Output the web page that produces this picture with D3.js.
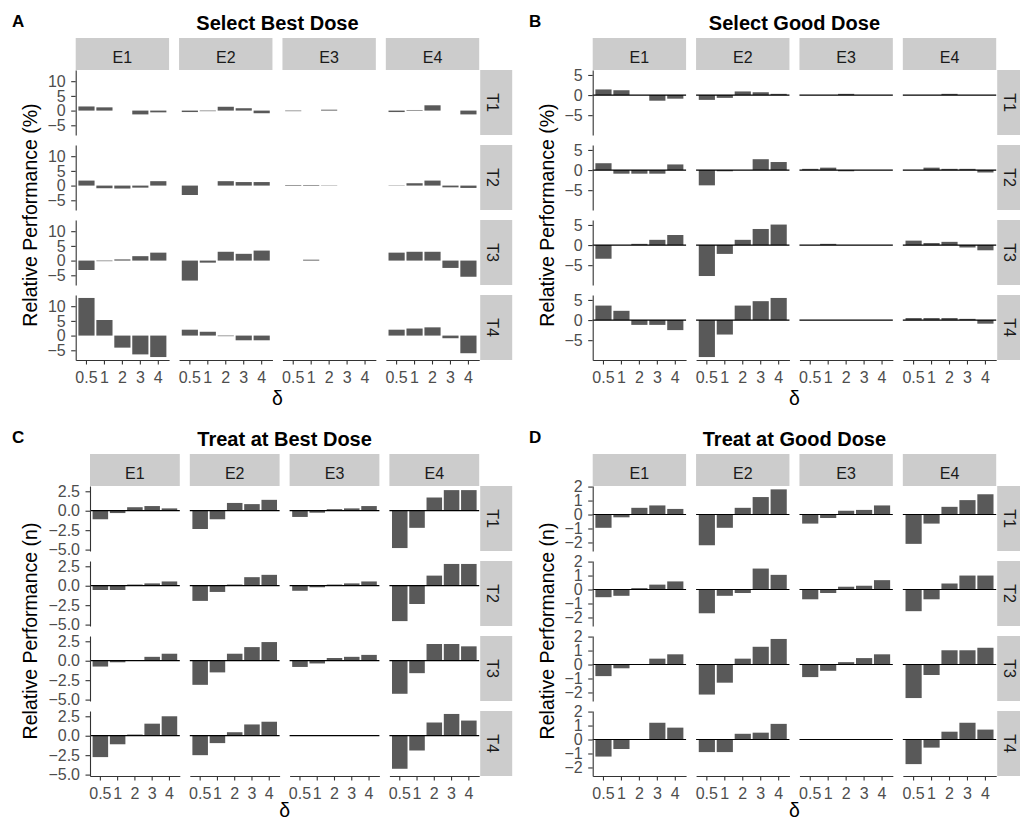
<!DOCTYPE html>
<html><head><meta charset="utf-8">
<script src="https://cdn.jsdelivr.net/npm/d3@7"></script>
<style>
body{margin:0;background:#fff;}
svg text{font-family:"Liberation Sans",Arial,Helvetica,sans-serif;}
</style></head><body>
<svg id="chart" width="1020" height="821"></svg>
<script>
// ---------- categories ----------
const deltas = ["0.5", "1", "2", "3", "4"];
const exposures = ["E1", "E2", "E3", "E4"];
const toxicities = ["T1", "T2", "T3", "T4"];

// ---------- A: Select Best Dose (%) — per T row, one list per E1..E4 across deltas ----------
const selectBestT1 = [[1.4, 1.1, 0, -1.3, -0.6], [-0.5, -0.2, 1.3, 0.8, -0.9], [-0.2, 0, 0.3, 0, 0], [-0.5, 0.2, 1.8, 0, -1.3]];
const selectBestT2 = [[1.7, -0.9, -1.0, -0.7, 1.5], [-3.2, 0, 1.5, 1.2, 1.2], [0.2, 0.2, -0.1, 0, 0], [-0.1, 0.8, 1.7, -0.6, -0.8]];
const selectBestT3 = [[-3.2, -0.2, 0.4, 1.5, 2.7], [-6.8, -0.7, 3.0, 2.3, 3.4], [0, 0.3, 0, 0, 0], [2.7, 3.0, 3.0, -2.5, -5.5]];
const selectBestT4 = [[12.8, 5.3, -4.1, -6.4, -7.3], [2.0, 1.3, -0.2, -1.6, -1.6], [0, 0, 0, 0, 0], [2.0, 2.4, 2.8, -0.9, -6.0]];

// ---------- B: Select Good Dose (%) ----------
const selectGoodT1 = [[1.4, 1.2, 0, -1.4, -0.9], [-1.2, -0.7, 0.9, 0.7, 0.3], [0, 0, 0.3, 0, 0], [0, 0, 0.3, 0, 0]];
const selectGoodT2 = [[1.7, -0.9, -0.9, -0.9, 1.4], [-3.8, -0.3, 0, 2.7, 2.0], [0.3, 0.6, -0.3, 0, 0], [0, 0.6, 0.3, 0.3, -0.6]];
const selectGoodT3 = [[-3.4, 0, 0.3, 1.3, 2.5], [-7.7, -2.2, 1.3, 4.0, 5.1], [0, 0.3, 0, 0, 0], [1.1, 0.5, 0.8, -0.6, -1.3]];
const selectGoodT4 = [[3.6, 2.3, -1.2, -1.2, -2.5], [-9.2, -3.6, 3.6, 4.7, 5.5], [0, 0, 0, 0, 0], [0.5, 0.5, 0.5, 0.3, -0.9]];

// ---------- C: Treat at Best Dose (n) ----------
const treatBestT1 = [[-1.1, -0.3, 0.45, 0.6, 0.3], [-2.35, -1.1, 1.0, 0.85, 1.4], [-0.8, -0.25, 0.2, 0.3, 0.6], [-4.8, -2.2, 1.7, 2.65, 2.65]];
const treatBestT2 = [[-0.55, -0.55, 0.15, 0.3, 0.55], [-1.95, -0.8, 0.15, 1.1, 1.4], [-0.65, -0.2, 0.15, 0.3, 0.55], [-4.55, -2.35, 1.3, 2.8, 2.8]];
const treatBestT3 = [[-0.75, -0.2, 0.05, 0.5, 0.9], [-3.1, -1.5, 0.9, 1.75, 2.4], [-0.8, -0.35, 0.35, 0.5, 0.75], [-4.25, -1.6, 2.15, 2.15, 1.85]];
const treatBestT4 = [[-2.75, -1.1, 0.15, 1.55, 2.5], [-2.5, -0.95, 0.45, 1.45, 1.8], [0, 0, 0, 0, 0], [-4.25, -1.9, 1.7, 2.8, 1.95]];

// ---------- D: Treat at Good Dose (n) ----------
const treatGoodT1 = [[-0.95, -0.2, 0.48, 0.65, 0.4], [-2.2, -0.95, 0.48, 1.25, 1.8], [-0.65, -0.25, 0.27, 0.33, 0.65], [-2.1, -0.65, 0.55, 1.03, 1.45]];
const treatGoodT2 = [[-0.55, -0.45, 0.1, 0.35, 0.58], [-1.7, -0.45, -0.25, 1.5, 1.05], [-0.7, -0.25, 0.2, 0.27, 0.67], [-1.55, -0.7, 0.43, 1.0, 1.0]];
const treatGoodT3 = [[-0.83, -0.27, 0, 0.42, 0.73], [-2.15, -1.3, 0.42, 1.27, 1.83], [-0.9, -0.45, 0.17, 0.46, 0.73], [-2.4, -0.75, 1.02, 1.02, 1.2]];
const treatGoodT4 = [[-1.22, -0.68, 0, 1.2, 0.85], [-0.9, -0.9, 0.41, 0.49, 1.12], [0, 0, 0, 0, 0], [-1.76, -0.58, 0.56, 1.2, 0.71]];

// ---------- tick values ----------
const ticksA = [-5, 0, 5, 10];
const ticksB = [-5, 0, 5];
const ticksC = [-5.0, -2.5, 0.0, 2.5];
const ticksD = [-2, -1, 0, 1, 2];

// ---------- panel definitions ----------
const panels = [
  {tag: "A", title: "Select Best Dose", ylab: "Relative Performance (%)", rows: [selectBestT1, selectBestT2, selectBestT3, selectBestT4], ticks: ticksA, fmt: d3.format("d"), hline: false, ox: 0, oy: 0, left: 75.7},
  {tag: "B", title: "Select Good Dose", ylab: "Relative Performance (%)", rows: [selectGoodT1, selectGoodT2, selectGoodT3, selectGoodT4], ticks: ticksB, fmt: d3.format("d"), hline: true, ox: 517, oy: 0, left: 75.7},
  {tag: "C", title: "Treat at Best Dose", ylab: "Relative Performance (n)", rows: [treatBestT1, treatBestT2, treatBestT3, treatBestT4], ticks: ticksC, fmt: d3.format(".1f"), hline: true, ox: 0, oy: 416, left: 90},
  {tag: "D", title: "Treat at Good Dose", ylab: "Relative Performance (n)", rows: [treatGoodT1, treatGoodT2, treatGoodT3, treatGoodT4], ticks: ticksD, fmt: d3.format("d"), hline: true, ox: 517, oy: 416, left: 75.7}
];

const svg = d3.select("#chart");
const RIGHT = 479.2, GAP = 10, STRIP_TOP = 38, PANEL_TOP = 70, PANEL_BOTTOM = 360, STRIP = 32;
const BAR = "#595959", STRIPFILL = "#CCCCCC", AXIS = "#333333", TICKTXT = "#4D4D4D";

panels.forEach(p => {
  const g = svg.append("g").attr("transform", `translate(${p.ox},${p.oy})`);
  const colW = (RIGHT - p.left - GAP * 3) / 4;
  const rowH = (PANEL_BOTTOM - PANEL_TOP - GAP * 3) / 4;

  // y domain shared across facets (ggplot-like 5% expansion, includes 0)
  const all = p.rows.flat(2).concat([0]);
  const [mn, mx] = d3.extent(all);
  const pad = (mx - mn) * 0.05;
  const yDomain = [mn - pad, mx + pad];

  // tag & title
  g.append("text").attr("x", 12).attr("y", 27).attr("font-size", 17).attr("font-weight", "bold").attr("fill", "#000").text(p.tag);
  g.append("text").attr("x", (p.left + RIGHT) / 2).attr("y", 30).attr("text-anchor", "middle")
    .attr("font-size", 20).attr("font-weight", "bold").attr("fill", "#000").text(p.title);

  // y label
  g.append("text").attr("transform", `translate(30,${(PANEL_TOP + PANEL_BOTTOM) / 2}) rotate(-90)`)
    .attr("text-anchor", "middle").attr("dy", "0.35em").attr("font-size", 19.5).attr("fill", "#000").text(p.ylab);
  // x label
  g.append("text").attr("x", (p.left + RIGHT) / 2).attr("y", p.oy === 0 ? 404.5 : 400.5).attr("text-anchor", "middle")
    .attr("font-size", 19.5).attr("fill", "#000").text("δ");

  // top strips
  exposures.forEach((e, j) => {
    const x0 = p.left + j * (colW + GAP);
    g.append("rect").attr("x", x0).attr("y", STRIP_TOP).attr("width", colW).attr("height", STRIP).attr("fill", STRIPFILL);
    g.append("text").attr("x", x0 + colW / 2).attr("y", STRIP_TOP + 25.3).attr("text-anchor", "middle")
      .attr("font-size", 16).attr("fill", "#1A1A1A").text(e);
  });

  toxicities.forEach((t, i) => {
    const y0 = PANEL_TOP + i * (rowH + GAP);
    const y = d3.scaleLinear().domain(yDomain).range([y0 + rowH, y0]);

    // right strip
    g.append("rect").attr("x", RIGHT + 1).attr("y", y0).attr("width", STRIP).attr("height", rowH).attr("fill", STRIPFILL);
    g.append("text").attr("transform", `translate(${RIGHT + 1 + STRIP - 25.3},${y0 + rowH / 2}) rotate(90)`)
      .attr("text-anchor", "middle").attr("font-size", 16).attr("fill", "#1A1A1A").text(t);

    exposures.forEach((e, j) => {
      const x0 = p.left + j * (colW + GAP);
      const x = d3.scaleBand().domain(deltas).range([x0, x0 + colW]).paddingInner(0.1).paddingOuter(0.15);
      const vals = p.rows[i][j];
      const cell = g.append("g");

      cell.selectAll("rect.bar").data(deltas.map((d, k) => ({d, v: vals[k]})))
        .join("rect").attr("class", "bar")
        .attr("x", d => x(d.d)).attr("width", x.bandwidth())
        .attr("y", d => Math.min(y(d.v), y(0)))
        .attr("height", d => Math.abs(y(d.v) - y(0)))
        .attr("fill", BAR);

      if (p.hline) {
        cell.append("line").attr("x1", x0).attr("x2", x0 + colW).attr("y1", y(0)).attr("y2", y(0))
          .attr("stroke", "#000").attr("stroke-width", 1.2);
      }

      // y axis on first column
      if (j === 0) {
        const ya = g.append("g").attr("transform", `translate(${x0},0)`)
          .call(d3.axisLeft(y).tickValues(p.ticks).tickFormat(p.fmt).tickSize(4.5).tickSizeOuter(0).tickPadding(5.5));
        ya.attr("font-size", 16).attr("font-family", null);
        ya.select(".domain").attr("stroke", AXIS).attr("stroke-width", 1.1);
        ya.selectAll(".tick line").attr("stroke", AXIS).attr("stroke-width", 1.1);
        ya.selectAll(".tick text").attr("fill", TICKTXT);
      }
      // x axis on bottom row
      if (i === 3) {
        const xa = g.append("g").attr("transform", `translate(0,${y0 + rowH})`)
          .call(d3.axisBottom(x).tickSize(4.5).tickSizeOuter(0).tickPadding(7.3));
        xa.attr("font-size", 16).attr("font-family", null);
        xa.select(".domain").attr("stroke", AXIS).attr("stroke-width", 1.1);
        xa.selectAll(".tick line").attr("stroke", AXIS).attr("stroke-width", 1.1);
        xa.selectAll(".tick text").attr("fill", TICKTXT);
      }
    });
  });
});
</script>
</body></html>
